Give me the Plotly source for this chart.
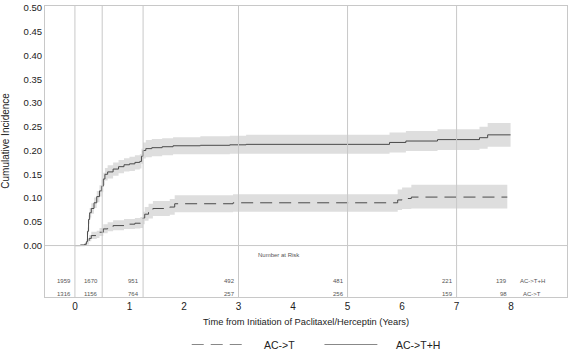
import plotly.graph_objects as go

# ---------------- data ----------------
t_th = [0, 0.1, 0.18, 0.21, 0.23, 0.25, 0.27, 0.3, 0.35, 0.4, 0.45, 0.49, 0.52, 0.55, 0.6, 0.7, 0.8, 0.9,
        1.0, 1.1, 1.19, 1.22, 1.25, 1.3, 1.41, 1.6, 1.8, 2.3, 2.84, 3.14, 5.77, 6.07, 6.65, 7.42, 7.57, 7.99]
ci_th = [0, 0.001, 0.003, 0.008, 0.03, 0.055, 0.069, 0.078, 0.09, 0.103, 0.115, 0.125, 0.14, 0.15, 0.155,
         0.161, 0.166, 0.17, 0.172, 0.175, 0.177, 0.188, 0.2, 0.204, 0.206, 0.208, 0.21, 0.211, 0.212, 0.213,
         0.217, 0.22, 0.223, 0.227, 0.233, 0.233]
lo_th = [0, 0, 0.001, 0.004, 0.023, 0.046, 0.059, 0.067, 0.079, 0.091, 0.103, 0.112, 0.127, 0.137, 0.141,
         0.147, 0.152, 0.156, 0.157, 0.160, 0.162, 0.172, 0.183, 0.186, 0.188, 0.19, 0.192, 0.192, 0.193,
         0.193, 0.196, 0.199, 0.201, 0.204, 0.208, 0.208]
up_th = [0, 0.003, 0.006, 0.013, 0.038, 0.064, 0.079, 0.089, 0.101, 0.115, 0.127, 0.138, 0.153, 0.163,
         0.169, 0.175, 0.18, 0.184, 0.187, 0.19, 0.192, 0.204, 0.217, 0.222, 0.224, 0.226, 0.228, 0.23,
         0.231, 0.233, 0.238, 0.241, 0.245, 0.25, 0.258, 0.258]

t_t = [0, 0.18, 0.22, 0.26, 0.3, 0.4, 0.45, 0.52, 0.6, 0.7, 0.9, 1.1, 1.2, 1.25, 1.28, 1.35, 1.43, 1.74,
       1.83, 2.9, 5.92, 6.0, 6.17, 7.93]
ci_t = [0, 0.001, 0.006, 0.015, 0.021, 0.023, 0.028, 0.035, 0.039, 0.042, 0.045, 0.047, 0.048, 0.058,
        0.066, 0.072, 0.078, 0.081, 0.088, 0.09, 0.096, 0.099, 0.102, 0.102]
lo_t = [0, 0, 0.002, 0.009, 0.014, 0.016, 0.02, 0.026, 0.03, 0.032, 0.035, 0.036, 0.037, 0.045, 0.052,
        0.057, 0.062, 0.065, 0.07, 0.071, 0.075, 0.077, 0.078, 0.078]
up_t = [0, 0.003, 0.011, 0.022, 0.029, 0.031, 0.037, 0.045, 0.049, 0.053, 0.056, 0.058, 0.06, 0.071,
        0.081, 0.088, 0.094, 0.098, 0.106, 0.108, 0.118, 0.122, 0.128, 0.128]

risk_times = [0, 0.5, 1.25, 3, 5, 7, 8]
risk_th = [1959, 1670, 951, 492, 481, 221, 139]
risk_t = [1316, 1156, 764, 257, 256, 159, 98]
grid_times = [0, 0.5, 1.25, 3, 5, 7]
x_ticks = [0, 1, 2, 3, 4, 5, 6, 7, 8]
y_ticks = [0, 0.05, 0.1, 0.15, 0.2, 0.25, 0.3, 0.35, 0.4, 0.45, 0.5]
series_names = ["AC->T", "AC->T+H"]

# ---------------- styles ----------------
FONT = "Arial, Liberation Sans, sans-serif"
LINE = "#4a4a4a"
BAND = "rgba(222,222,222,1)"
GRID = "#c8c8c8"
SMALL = "#555555"
X0, X1 = -0.549, 9.025
Y0, Y1 = -0.1083, 0.5042

fig = go.Figure()

for t, lo, up in [(t_th, lo_th, up_th), (t_t, lo_t, up_t)]:
    fig.add_trace(go.Scatter(x=t, y=lo, mode="lines", line=dict(width=0, shape="hv"),
                             hoverinfo="skip", showlegend=False))
    fig.add_trace(go.Scatter(x=t, y=up, mode="lines", line=dict(width=0, shape="hv"),
                             fill="tonexty", fillcolor=BAND, hoverinfo="skip", showlegend=False))

fig.add_trace(go.Scatter(x=t_th, y=ci_th, mode="lines", name=series_names[1],
                         line=dict(color=LINE, width=1, shape="hv"), showlegend=False))
fig.add_trace(go.Scatter(x=t_t, y=ci_t, mode="lines", name=series_names[0],
                         line=dict(color=LINE, width=1, shape="hv", dash="12px,7px"), showlegend=False))

shapes = []
for g in grid_times:
    shapes.append(dict(type="line", xref="x", yref="paper", x0=g, x1=g, y0=0, y1=1,
                       line=dict(color=GRID, width=1), layer="above"))
shapes.append(dict(type="line", xref="paper", yref="y", x0=0, x1=1, y0=0, y1=0,
                   line=dict(color=GRID, width=1), layer="above"))


def px_x(p):
    return (p - 45) / 523.0


def px_y(p):
    return (297 - p) / 294.0


# legend drawn manually (paper coords)
ly = px_y(345)
shapes.append(dict(type="line", xref="paper", yref="paper", x0=px_x(192), x1=px_x(246), y0=ly, y1=ly,
                   line=dict(color="#888888", width=1, dash="12px,7px")))
shapes.append(dict(type="line", xref="paper", yref="paper", x0=px_x(325), x1=px_x(378), y0=ly, y1=ly,
                   line=dict(color="#888888", width=1)))

annotations = []
annotations.append(dict(text=series_names[0], xref="paper", yref="paper", x=px_x(262), y=ly,
                        xanchor="left", yanchor="middle", showarrow=False,
                        font=dict(family=FONT, size=10.5, color="#222222")))
annotations.append(dict(text=series_names[1], xref="paper", yref="paper", x=px_x(395), y=ly,
                        xanchor="left", yanchor="middle", showarrow=False,
                        font=dict(family=FONT, size=10.5, color="#222222")))

# number at risk
annotations.append(dict(text="Number at Risk", x=3.75, y=-0.019, xref="x", yref="y",
                        xanchor="center", yanchor="middle",
                        showarrow=False, font=dict(family=FONT, size=6, color=SMALL)))
for tt, a, b in zip(risk_times, risk_th, risk_t):
    annotations.append(dict(text=str(a), x=tt, y=-0.075, xref="x", yref="y", xanchor="right",
                            yanchor="middle", xshift=-2, showarrow=False,
                            font=dict(family=FONT, size=6, color=SMALL)))
    annotations.append(dict(text=str(b), x=tt, y=-0.102, xref="x", yref="y", xanchor="right",
                            yanchor="middle", xshift=-2, showarrow=False,
                            font=dict(family=FONT, size=6, color=SMALL)))
annotations.append(dict(text=series_names[1], x=8.39, y=-0.075, xref="x", yref="y", showarrow=False,
                        xanchor="center", yanchor="middle", font=dict(family=FONT, size=6, color=SMALL)))
annotations.append(dict(text=series_names[0], x=8.39, y=-0.102, xref="x", yref="y", showarrow=False,
                        xanchor="center", yanchor="middle", font=dict(family=FONT, size=6, color=SMALL)))

# axis titles
annotations.append(dict(text="Time from Initiation of Paclitaxel/Herceptin (Years)", xref="paper",
                        yref="paper", x=0.5, y=px_y(322), xanchor="center", yanchor="middle",
                        showarrow=False, font=dict(family=FONT, size=9.3, color="#222222")))
annotations.append(dict(text="Cumulative Incidence", xref="paper", yref="paper", x=px_x(6),
                        y=px_y(139), xanchor="center", yanchor="middle", textangle=-90,
                        showarrow=False, font=dict(family=FONT, size=10, color="#222222")))

fig.update_layout(
    width=570, height=352,
    margin=dict(l=45, r=2, t=3, b=55),
    paper_bgcolor="white", plot_bgcolor="white",
    shapes=shapes, annotations=annotations,
    showlegend=False,
    font=dict(family=FONT, color="#222222"),
)
fig.update_xaxes(range=[X0, X1], tickvals=x_ticks, ticktext=[str(v) for v in x_ticks],
                 showgrid=False, zeroline=False, showline=True, mirror=True, linecolor=GRID,
                 linewidth=1, ticks="", ticklabeloverflow="allow",
                 tickfont=dict(size=10, family=FONT, color="#222222"))
fig.update_yaxes(range=[Y0, Y1], tickvals=y_ticks, ticktext=["%.2f" % v for v in y_ticks],
                 showgrid=False, zeroline=False, showline=True, mirror=True, linecolor=GRID,
                 linewidth=1, ticks="", ticklabeloverflow="allow",
                 tickfont=dict(size=9.5, family=FONT, color="#222222"))

fig.write_html("out.html")
